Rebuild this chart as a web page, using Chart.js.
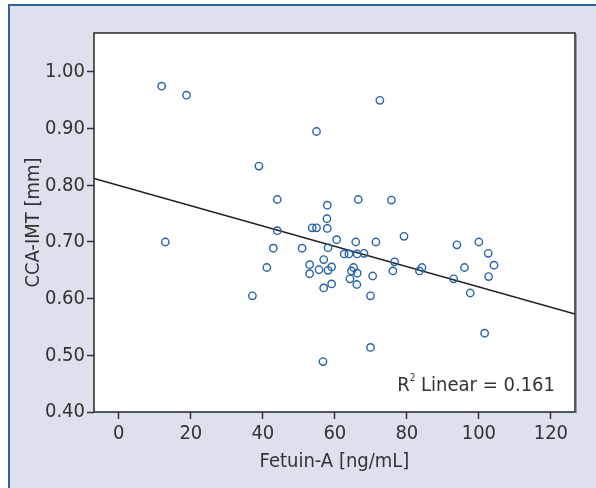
<!DOCTYPE html>
<html>
<head>
<meta charset="utf-8">
<script src="https://cdn.jsdelivr.net/npm/chart.js@4/dist/chart.umd.min.js"></script>
<style>
  html, body { margin: 0; padding: 0; background: #ffffff; overflow: hidden; }
  #panel {
    position: absolute; left: 8px; top: 4px; width: 620px; height: 520px;
    background: #dde1ee; border-top: 2px solid #2f62a0; border-left: 2px solid #2f62a0;
  }
  #chart { position: absolute; left: 0; top: 0; }
</style>
</head>
<body>
<div id="panel"></div>
<canvas id="chart" width="596" height="488"></canvas>
<script>
// Fetuin-A [ng/mL] vs CCA-IMT [mm]
const fetuin = [
  11.9, 18.8, 72.5, 54.9, 38.9, 44.0, 66.5, 75.7, 57.9, 57.8,
  53.7, 54.9, 57.9, 44.0, 12.9, 60.5, 65.8, 71.4, 79.2, 93.9,
  100.0, 42.9, 50.9, 58.1, 62.6, 63.9, 66.2, 68.1, 102.6, 56.9,
  76.6, 41.1, 53.0, 55.6, 58.1, 59.1, 65.2, 64.6, 76.1, 83.5,
  84.2, 96.0, 104.2, 53.0, 66.2, 70.5, 102.7, 64.2, 93.0, 59.1,
  66.1, 56.9, 97.6, 37.1, 69.9, 101.6, 69.9, 56.7
];
const cca_imt = [
  0.975, 0.959, 0.950, 0.895, 0.834, 0.775, 0.775, 0.774, 0.765, 0.741,
  0.725, 0.725, 0.724, 0.720, 0.700, 0.704, 0.700, 0.700, 0.710, 0.695,
  0.700, 0.689, 0.689, 0.690, 0.679, 0.679, 0.679, 0.680, 0.680, 0.669,
  0.665, 0.655, 0.660, 0.651, 0.650, 0.656, 0.655, 0.649, 0.649, 0.649,
  0.655, 0.655, 0.659, 0.644, 0.645, 0.640, 0.639, 0.635, 0.635, 0.626,
  0.625, 0.619, 0.610, 0.605, 0.605, 0.539, 0.514, 0.489
];

// fitted line, ends at the frame edges
const fit_x = [-6.9, 126.7];
const fit_y = [0.812, 0.573];

const x_ticks = [0, 20, 40, 60, 80, 100, 120];
const y_ticks = [0.40, 0.50, 0.60, 0.70, 0.80, 0.90, 1.00];
const r2_label = "0.161";

const FONT = "'Liberation Sans Narrow', 'DejaVu Sans Condensed', 'Arial Narrow', sans-serif";
const INK = "#333333";

const framePlugin = {
  id: "frame",
  beforeDraw(chart) {
    const ctx = chart.ctx;
    const a = chart.chartArea;
    ctx.save();
    ctx.fillStyle = "#ffffff";
    ctx.fillRect(a.left, a.top, a.right - a.left, a.bottom - a.top);
    ctx.restore();
  },
  afterDraw(chart) {
    const ctx = chart.ctx;
    const a = chart.chartArea;
    ctx.save();
    // faint shadow on right side
    ctx.strokeStyle = "#9a9aa0";
    ctx.lineWidth = 1;
    ctx.beginPath();
    ctx.moveTo(a.right + 1.5, a.top + 1);
    ctx.lineTo(a.right + 1.5, a.bottom + 1.5);
    ctx.stroke();
    ctx.strokeStyle = INK;
    ctx.lineWidth = 1.6;
    ctx.strokeRect(a.left, a.top, a.right - a.left, a.bottom - a.top);

    // R² Linear = 0.161
    ctx.fillStyle = INK;
    ctx.textBaseline = "alphabetic";
    const big = "20px " + FONT, small = "10px " + FONT;
    ctx.font = big;
    const rest = " Linear = " + r2_label;
    const wRest = ctx.measureText(rest).width;
    const wR = ctx.measureText("R").width;
    ctx.font = small;
    const wSup = ctx.measureText("2").width;
    const right = a.right - 20;
    const base = a.bottom - 21;
    let x = right - wRest - wSup - wR;
    ctx.font = big;
    ctx.fillText("R", x, base);
    x += wR;
    ctx.font = small;
    ctx.fillText("2", x, base - 10);
    x += wSup;
    ctx.font = big;
    ctx.fillText(rest, x, base);
    ctx.restore();
  }
};

function main() {
  const points = fetuin.map((v, i) => ({ x: v, y: cca_imt[i] }));
  const line = fit_x.map((v, i) => ({ x: v, y: fit_y[i] }));

  const config = {
    type: "scatter",
    data: {
      datasets: [
        {
          label: "Fit",
          type: "line",
          data: line,
          borderColor: "#1e1e1e",
          borderWidth: 1.6,
          pointRadius: 0,
          fill: false,
          order: 2,
        },
        {
          label: "CCA-IMT",
          data: points,
          pointStyle: "circle",
          pointRadius: 3.7,
          pointBorderWidth: 1.4,
          borderColor: "#2563a8",
          backgroundColor: "rgba(255,255,255,0)",
          order: 1,
        },
      ],
    },
    options: {
      responsive: false,
      animation: false,
      devicePixelRatio: 1,
      layout: { padding: { left: 0, top: 33, right: 21, bottom: 0 } },
      plugins: { legend: { display: false }, tooltip: { enabled: false } },
      scales: {
        x: {
          type: "linear",
          min: -6.9,
          max: 126.7,
          afterBuildTicks: (s) => { s.ticks = x_ticks.map((v) => ({ value: v })); },
          afterFit: (s) => { s.height = 76; },
          border: { display: false },
          grid: {
            display: true, drawOnChartArea: false, drawTicks: true,
            tickLength: 7, tickColor: INK, tickWidth: 1.5,
          },
          ticks: {
            color: INK, padding: 3, maxRotation: 0,
            font: { family: FONT, size: 20 },
            callback: (v) => String(v),
          },
          title: {
            display: true, text: "Fetuin-A [ng/mL]", color: INK,
            font: { family: FONT, size: 20 },
            padding: { top: 0, bottom: 14 },
          },
        },
        y: {
          type: "linear",
          min: 0.40,
          max: 1.0688,
          afterBuildTicks: (s) => { s.ticks = y_ticks.map((v) => ({ value: v })); },
          afterFit: (s) => { s.width = 94; },
          border: { display: false },
          grid: {
            display: true, drawOnChartArea: false, drawTicks: true,
            tickLength: 7, tickColor: INK, tickWidth: 1.5,
          },
          ticks: {
            color: INK, padding: 2,
            font: { family: FONT, size: 20 },
            callback: (v) => Number(v).toFixed(2),
          },
          title: {
            display: true, text: "CCA-IMT [mm]", color: INK,
            font: { family: FONT, size: 20 },
            padding: { top: 22, bottom: 0 },
          },
        },
      },
    },
    plugins: [framePlugin],
  };

  new Chart(document.getElementById("chart"), config);
}

document.addEventListener("DOMContentLoaded", main, false);
</script>
</body>
</html>
